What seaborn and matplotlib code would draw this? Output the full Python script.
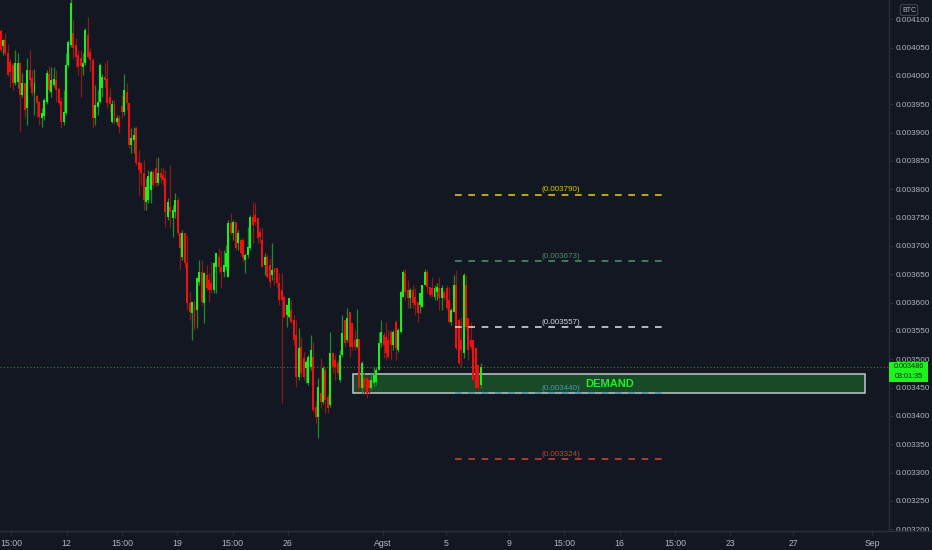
import numpy as np
import pandas as pd
import matplotlib
matplotlib.use("Agg")
import matplotlib.pyplot as plt
import seaborn as sns
from matplotlib.patches import Rectangle

# ---------------- data (prices in millionths of BTC) ----------------
opens_e6 = [4079,4053,4063,4040,4025,4019,3988,3989,4023,3966,
            3988,3943,4011,3996,3970,3965,3954,3926,3929,3954,
            4003,3972,3984,3993,3977,3956,3919,3935,4019,4055,
            4076,4055,4037,4032,4016,4023,4072,4042,4028,3926,
            3945,3954,3979,3998,3995,3963,3919,3950,3919,3926,
            3947,3936,3972,3952,3878,3887,3908,3848,3846,3829,
            3777,3781,3799,3830,3838,3811,3829,3825,3820,3751,
            3769,3749,3760,3781,3723,3680,3723,3670,3599,3582,
            3596,3587,3636,3654,3599,3649,3640,3635,3622,3663,
            3680,3663,3654,3663,3645,3740,3723,3742,3705,3710,
            3710,3675,3684,3696,3751,3755,3749,3725,3710,3666,
            3680,3666,3649,3661,3661,3634,3622,3610,3578,3575,
            3587,3569,3543,3469,3522,3502,3484,3458,3486,3504,
            3416,3398,3440,3424,3481,3433,3419,3511,3499,3493,
            3463,3507,3569,3534,3583,3564,3534,3522,3536,3449,
            3467,3467,3463,3449,3458,3460,3481,3529,3543,3539,
            3534,3548,3525,3566,3516,3548,3610,3652,3622,3608,
            3622,3610,3601,3596,3592,3631,3654,3627,3626,3610,
            3619,3626,3608,3619,3626,3605,3566,3583,3631,3569,
            3534,3511,3631,3573,3534,3534,3520,3490,3454]
closes_e6 = [4046,4063,4040,4002,4007,3988,4023,4023,3966,3988,
             3940,4011,3993,3970,3988,3952,3928,3935,3958,4005,
             3975,3993,3995,3975,3952,3919,3936,4019,4060,4129,
             4049,4033,4016,4018,4023,4081,4033,4028,3926,3949,
             3954,4019,3998,3993,3952,3950,3950,3919,3926,3910,
             3936,3975,3952,3878,3890,3896,3846,3834,3829,3781,
             3804,3823,3830,3808,3811,3829,3820,3816,3760,3777,
             3760,3763,3781,3723,3696,3723,3670,3599,3583,3601,
             3557,3643,3654,3601,3652,3626,3622,3622,3670,3688,
             3663,3654,3666,3688,3740,3723,3742,3696,3723,3688,
             3679,3684,3698,3751,3737,3742,3714,3716,3663,3680,
             3645,3636,3658,3652,3634,3605,3605,3575,3596,3608,
             3566,3534,3469,3520,3476,3469,3495,3504,3516,3410,
             3398,3451,3424,3484,3428,3414,3511,3486,3486,3476,
             3507,3546,3529,3573,3522,3522,3522,3536,3449,3493,
             3449,3440,3449,3463,3472,3481,3529,3548,3525,3511,
             3504,3525,3548,3520,3552,3619,3654,3619,3608,3622,
             3599,3596,3582,3617,3631,3654,3627,3613,3613,3626,
             3627,3608,3626,3608,3590,3566,3587,3631,3520,3493,
             3516,3649,3557,3516,3522,3463,3449,3449,3486]
highs_e6 = [4083,4065,4076,4056,4030,4023,4046,4040,4025,4005,
            3988,4032,4046,4011,4012,3966,3956,3943,3961,4011,
            4018,4016,4016,4011,3980,3963,3975,4040,4063,4152,
            4099,4067,4046,4046,4040,4085,4104,4049,4032,3984,
            3975,4023,4003,4023,4028,3979,3958,3958,3931,3931,
            3966,4003,3988,3952,3908,3910,3912,3869,3848,3852,
            3820,3834,3834,3834,3855,3857,3838,3839,3834,3785,
            3843,3772,3793,3786,3725,3728,3725,3719,3619,3601,
            3605,3645,3675,3675,3654,3666,3652,3672,3672,3688,
            3696,3693,3693,3702,3746,3758,3746,3742,3728,3714,
            3714,3688,3733,3755,3778,3776,3749,3732,3732,3688,
            3684,3679,3705,3661,3661,3652,3652,3613,3596,3608,
            3605,3578,3569,3555,3539,3513,3499,3507,3543,3530,
            3428,3467,3502,3488,3486,3440,3548,3513,3507,3499,
            3516,3578,3569,3590,3583,3564,3552,3589,3536,3496,
            3476,3467,3469,3476,3486,3486,3548,3569,3548,3566,
            3552,3552,3552,3569,3555,3622,3658,3659,3640,3626,
            3631,3626,3601,3617,3631,3659,3658,3627,3645,3631,
            3634,3645,3631,3622,3631,3627,3590,3649,3658,3573,
            3575,3652,3649,3573,3566,3534,3520,3490,3493]
lows_e6 = [4042,4037,4037,4000,3980,3975,3984,3979,3901,3963,
           3928,3913,3980,3966,3931,3928,3913,3910,3922,3950,
           3970,3963,3980,3954,3949,3908,3913,3931,4016,4051,
           4032,4016,4002,3963,4002,4019,4032,4007,3908,3913,
           3931,3952,3963,3980,3943,3936,3917,3915,3913,3899,
           3926,3931,3940,3873,3864,3864,3843,3790,3808,3763,
           3763,3776,3776,3802,3806,3808,3811,3808,3733,3746,
           3733,3716,3749,3719,3658,3675,3663,3587,3569,3534,
           3552,3555,3631,3596,3564,3622,3601,3617,3617,3617,
           3652,3626,3645,3658,3645,3719,3710,3693,3693,3684,
           3672,3652,3679,3693,3705,3737,3705,3705,3663,3649,
           3643,3627,3640,3631,3627,3596,3423,3573,3557,3573,
           3564,3525,3451,3463,3469,3463,3458,3454,3481,3407,
           3387,3361,3414,3421,3405,3405,3416,3476,3463,3472,
           3460,3504,3522,3530,3504,3516,3516,3520,3446,3440,
           3440,3432,3440,3446,3451,3454,3481,3522,3502,3499,
           3502,3499,3516,3499,3513,3546,3610,3605,3590,3590,
           3590,3578,3566,3582,3592,3631,3617,3610,3610,3605,
           3605,3587,3587,3605,3587,3564,3560,3583,3516,3490,
           3486,3502,3552,3499,3516,3460,3446,3446,3449]

fib_levels = [0.003790, 0.003673, 0.003557, 0.003440, 0.003324]
fib_labels = ["(0.003790)", "(0.003673)", "(0.003557)", "(0.003440)", "(0.003324)"]
fib_colors = ["#d9c21c", "#4e8a68", "#d1d4dc", "#4b93b5", "#c8402f"]

demand_low, demand_high = 0.003440, 0.003474
last_price = 0.003486
countdown = "03:01:35"

# time axis in "day of July" units
xtick_pos = [8.5, 12, 15.5, 19, 22.5, 26, 32, 36, 40, 43.5, 47, 50.5, 54, 58, 63]
xtick_lab = ["15:00", "12", "15:00", "19", "15:00", "26", "Agst", "5", "9",
             "15:00", "16", "15:00", "23", "27", "Sep"]
first_bar_day, last_bar_day = 7.82, 38.2

# ---------------- styling ----------------
BG = "#131722"
TXT = "#b2b5be"
GRIDLINE = "#2a2e39"
sns.set_theme(style="dark", rc={"axes.facecolor": BG, "figure.facecolor": BG})
plt.rcParams["font.family"] = ["Liberation Sans", "DejaVu Sans"]

o = np.array(opens_e6) / 1e6
c = np.array(closes_e6) / 1e6
h = np.maximum(np.array(highs_e6) / 1e6, np.maximum(o, c))
l = np.minimum(np.array(lows_e6) / 1e6, np.minimum(o, c))
n = len(o)
t = np.linspace(first_bar_day, last_bar_day, n)
up = c >= o

fig = plt.figure(figsize=(9.32, 5.5), dpi=100)
ax = fig.add_axes([0, 19 / 550, 889 / 932, 531 / 550])
ax.set_facecolor(BG)

# demand zone
ax.add_patch(Rectangle((30.13, demand_low), 62.53 - 30.13, demand_high - demand_low,
                       facecolor="#184a27", edgecolor="#c3c6cc", lw=1.1, zorder=1))
ax.text(46.4, (demand_low + demand_high) / 2, "DEMAND", color="#1cf21c",
        fontsize=8, fontweight="bold", ha="center", va="center", zorder=4)

# last price dotted line
ax.axhline(last_price, color="#2a8a3a", lw=0.8, ls=(0, (1, 2)), zorder=1.5)

# candles
wick_cols = np.where(up, "#1f8a2a", "#8a1b1b")
body_cols = np.where(up, "#19f019", "#f01010")
ax.vlines(t, l, h, colors=wick_cols, lw=0.9, zorder=2)
ax.bar(t, np.maximum(np.abs(c - o), 1.2e-6), bottom=np.minimum(o, c), width=0.125,
       color=body_cols, linewidth=0, zorder=2.5)

# fib levels
fib_df = pd.DataFrame({
    "x": [36.58, 49.68] * len(fib_levels),
    "y": np.repeat(fib_levels, 2),
    "lvl": np.repeat(fib_labels, 2),
})
for lab, col in zip(fib_labels, fib_colors):
    sub = fib_df[fib_df["lvl"] == lab]
    sns.lineplot(data=sub, x="x", y="y", ax=ax, color=col, lw=1.2,
                 linestyle=(0, (4, 4)), zorder=3, legend=False)
for lvl, lab, col in zip(fib_levels, fib_labels, fib_colors):
    ax.text(43.3, lvl + 0.0000025, lab, color=col, fontsize=5.8,
            ha="center", va="bottom", zorder=4)

ax.set_xlim(7.785, 64.05)
ax.set_ylim(0.0031968, 0.004134)
ax.set_xlabel("")
ax.set_ylabel("")
ax.grid(False)

ax.set_xticks(xtick_pos)
ax.set_xticklabels(xtick_lab)
yt = np.round(np.arange(0.0032, 0.004101, 0.00005), 6)
ax.set_yticks(yt)
ax.set_yticklabels([f"{v:.6f}" for v in yt])
ax.yaxis.tick_right()
ax.tick_params(axis="y", colors=GRIDLINE, labelcolor=TXT, labelsize=5.9, length=3,
               pad=1.5, width=0.8, right=True, left=False)
ax.tick_params(axis="x", colors=GRIDLINE, labelcolor=TXT, labelsize=6.3, length=3,
               pad=3, width=0.8, bottom=True)
for side in ["top", "left"]:
    ax.spines[side].set_visible(False)
for side in ["right", "bottom"]:
    ax.spines[side].set_color(GRIDLINE)
    ax.spines[side].set_linewidth(1)

# horizontal separator across the full width
fig.add_artist(plt.Line2D([0, 1], [19 / 550, 19 / 550], color=GRIDLINE, lw=1,
                          transform=fig.transFigure))

# BTC currency tag
fig.text(909 / 932, 1 - 10 / 550, "BTC", color=TXT, fontsize=5, ha="center", va="center",
         bbox=dict(boxstyle="round,pad=0.25", fc=BG, ec="#50535e", lw=0.6))

# last price tag
fig.add_artist(Rectangle((889 / 932, (550 - 382) / 550), 39 / 932, 20 / 550,
                         transform=fig.transFigure, facecolor="#1ff21f", edgecolor="none"))
fig.text(908.5 / 932, (550 - 367) / 550, f"{last_price:.6f}", color="#131722",
         fontsize=5.2, ha="center", va="center")
fig.text(908.5 / 932, (550 - 377) / 550, countdown, color="#131722",
         fontsize=5.2, ha="center", va="center")

fig.savefig("out.png", dpi=100, facecolor=BG)
